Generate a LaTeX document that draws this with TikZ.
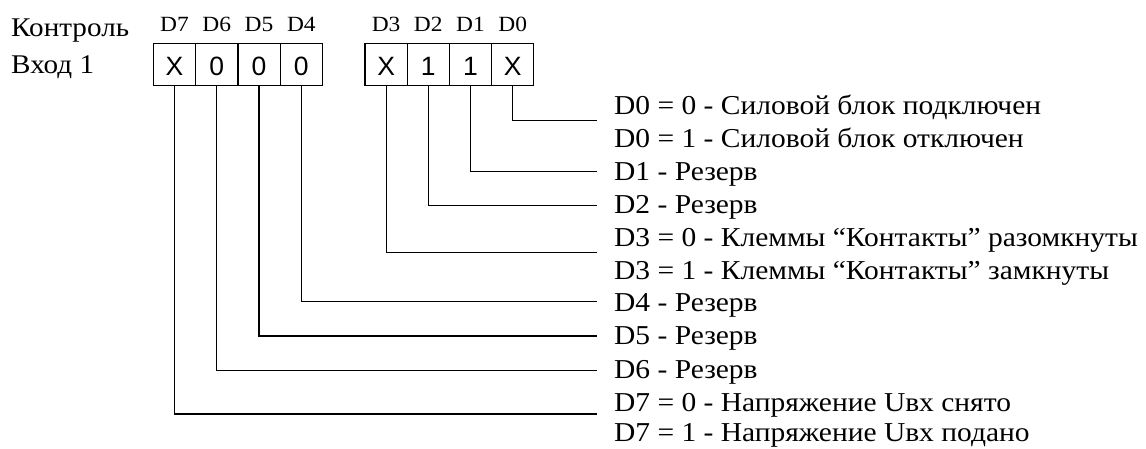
\documentclass[tikz,border=0pt]{standalone}
\usepackage{fontspec}
\setmainfont{Liberation Serif}[FakeStretch=1.08]
\newfontfamily\cellfont{Liberation Sans}
\begin{document}
\begin{tikzpicture}[x=1pt,y=-1pt,
  cell/.style={draw,line width=1.2pt,rectangle,minimum width=42.2pt,minimum height=42.4pt,inner sep=0pt},
  celltxt/.style={anchor=base,inner sep=0pt,font=\cellfont\fontsize{26.5}{30}\selectfont},
  bitlbl/.style={anchor=base,inner sep=0pt,font=\fontsize{21.7}{26}\selectfont},
  hdr/.style={anchor=base west,inner sep=0pt,font=\fontsize{27}{32}\selectfont},
  desc/.style={anchor=base west,inner sep=0pt,font=\fontsize{27.3}{32}\selectfont},
  wire/.style={line width=1.2pt}]
\useasboundingbox (0,0) rectangle (1146,448);
% header texts
\node[hdr] (kontrol) at (11,36.5) {Контроль};
\node[hdr] (vhod) at (11,73.5) {Вход 1};
% cells
\foreach \n/\x/\v in {7/174.45/X,6/216.75/0,5/259.05/0,4/301.35/0,3/386.1/X,2/428.3/1,1/470.5/1,0/512.7/X}{
  \node[cell] (c\n) at (\x,64.5) {};
  \node[celltxt] (v\n) at (\x,75.7) {\v};
  \node[bitlbl] (l\n) at (\x,31.7) {D\n};
}
% descriptions
\node[desc] (t0a) at (614,114.3) {D0 = 0 - Силовой блок подключен};
\node[desc] (t0b) at (614,147.0) {D0 = 1 - Силовой блок отключен};
\node[desc] (t1) at (614,180.0) {D1 - Резерв};
\node[desc] (t2) at (614,213.2) {D2 - Резерв};
\node[desc] (t3a) at (614,246.5) {D3 = 0 - Клеммы “Контакты” разомкнуты};
\node[desc] (t3b) at (614,279.2) {D3 = 1 - Клеммы “Контакты” замкнуты};
\node[desc] (t4) at (614,311.5) {D4 - Резерв};
\node[desc] (t5) at (614,344.7) {D5 - Резерв};
\node[desc] (t6) at (614,378.5) {D6 - Резерв};
\node[desc] (t7a) at (614,411.0) {D7 = 0 - Напряжение Uвх снято};
\node[desc] (t7b) at (614,441.6) {D7 = 1 - Напряжение Uвх подано};
% line ends
\coordinate (e0) at (597,120.7);
\coordinate (e1) at (597,171.7);
\coordinate (e2) at (597,205.3);
\coordinate (e3) at (597,252.3);
\coordinate (e4) at (597,301.3);
\coordinate (e5) at (597,336.0);
\coordinate (e6) at (597,370.3);
\coordinate (e7) at (597,414.0);
\foreach \n in {0,...,7}{
  \draw[wire] (c\n.south) |- (e\n);
}
\end{tikzpicture}
\end{document}
